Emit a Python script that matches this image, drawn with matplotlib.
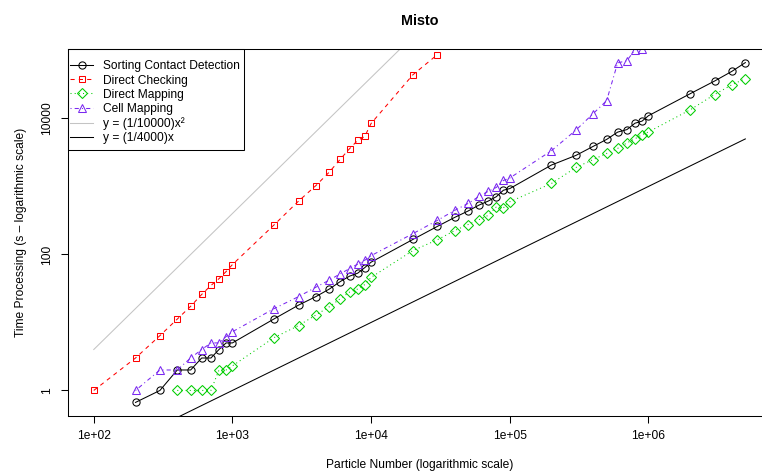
# %% imports
import numpy as np
import matplotlib
matplotlib.use('Agg')
import matplotlib.pyplot as plt
from matplotlib.patches import Rectangle
from matplotlib.ticker import NullLocator

plt.rcParams['font.family'] = ['Liberation Sans', 'DejaVu Sans']
plt.rcParams['font.size'] = 8.64

# %% data (time in s vs particle number)

# Sorting Contact Detection
scd_n = [200, 300, 400, 500, 600, 700, 800, 900, 1000,
         2000, 3000, 4000, 5000, 6000, 7000, 8000, 9000, 10000,
         20000, 30000, 40000, 50000, 60000, 70000, 80000, 90000, 100000,
         200000, 300000, 400000, 500000, 600000, 700000, 800000, 900000, 1000000,
         2000000, 3000000, 4000000, 5000000]
scd_t = [0.667, 1.0, 2.0, 2.0, 3.0, 3.0, 4.0, 5.0, 5.0,
         11.3, 18, 24, 31, 40, 48, 53, 64, 77,
         166, 258, 350, 435, 532, 610, 707, 880, 930,
         2066, 2860, 3890, 4920, 6300, 6860, 8510, 9140, 10960,
         23100, 35500, 49300, 66300]

# Direct Checking
dc_n = [100, 200, 300, 400, 500, 600, 700, 800, 900, 1000,
        2000, 3000, 4000, 5000, 6000, 7000, 8000, 9000, 10000,
        20000, 30000]
dc_t = [1.0, 3.0, 6.4, 11.2, 17.3, 25.8, 35, 44, 56, 71,
        273, 610, 1030, 1630, 2520, 3600, 4750, 5440, 8440,
        43800, 86500]

# Direct Mapping
dm_n = [400, 500, 600, 700, 800, 900, 1000,
        2000, 3000, 4000, 5000, 6000, 7000, 8000, 9000, 10000,
        20000, 30000, 40000, 50000, 60000, 70000, 80000, 90000, 100000,
        200000, 300000, 400000, 500000, 600000, 700000, 800000, 900000, 1000000,
        2000000, 3000000, 4000000, 5000000]
dm_t = [1.0, 1.0, 1.0, 1.0, 2.0, 2.0, 2.3,
        6.0, 9.0, 12.9, 17, 22.4, 28, 31, 36, 46,
        114, 164, 224, 275, 325, 376, 500, 485, 595,
        1107, 1900, 2490, 3060, 3630, 4370, 5030, 5770, 6330,
        13400, 22500, 31300, 38500]

# Cell Mapping
cm_n = [200, 300, 400, 500, 600, 700, 800, 900, 1000,
        2000, 3000, 4000, 5000, 6000, 7000, 8000, 9000, 10000,
        20000, 30000, 40000, 50000, 60000, 70000, 80000, 90000, 100000,
        200000, 300000, 400000, 500000, 600000, 700000, 800000, 900000]
cm_t = [1.0, 2.0, 2.0, 3.0, 4.0, 5.0, 5.0, 6.2, 7.3,
        16, 24, 33, 42, 52, 62, 72, 82, 96,
        202, 316, 444, 562, 713, 850, 967, 1225, 1330,
        3360, 6740, 11800, 18300, 65700, 70600, 103000, 104000]

# reference lines (end points)
quad_n = [100, 5000000]
quad_t = [4, 1e10]
lin_n = [100, 5000000]
lin_t = [0.1, 5000]

x_ticks = [1e2, 1e3, 1e4, 1e5, 1e6]
x_ticklabels = ['1e+02', '1e+03', '1e+04', '1e+05', '1e+06']
y_ticks = [1, 100, 10000]
y_ticklabels = ['1', '100', '10000']

labels = ['Sorting Contact Detection', 'Direct Checking', 'Direct Mapping',
          'Cell Mapping', 'y = (1/10000)x\u00b2', 'y = (1/4000)x']

# %% plot
fig = plt.figure(figsize=(7.62, 4.72), dpi=100)
ax = fig.add_axes([67.7/762, 56/472, 703.7/762, 367/472])

lw = 0.75
h1, = ax.plot(scd_n, scd_t, '-', color='black', lw=lw, marker='o', ms=5.2,
              mfc='none', mew=0.75)
h2, = ax.plot(dc_n, dc_t, color='#FF0000', lw=lw, ls=(0, (4, 4)), marker='s',
              ms=4.6, mfc='none', mew=0.75)
h3, = ax.plot(dm_n, dm_t, color='#00CD00', lw=lw, ls=(0, (1, 3)), marker='D',
              ms=4.6, mfc='none', mew=0.75)
h4, = ax.plot(cm_n, cm_t, color='#7A28F0', lw=lw, ls=(0, (1, 3, 4, 3)), marker='^',
              ms=6, mfc='none', mew=0.75)
h5, = ax.plot(quad_n, quad_t, '-', color='#C4C4C4', lw=lw)
h6, = ax.plot(lin_n, lin_t, '-', color='black', lw=lw)

ax.set_xscale('log')
ax.set_yscale('log')

# R style 4% padding around data range
xlo, xhi = np.log10(min(dc_n)), np.log10(max(scd_n))
ylo, yhi = np.log10(min(scd_t)), np.log10(max(scd_t))
px, py = 0.04 * (xhi - xlo), 0.04 * (yhi - ylo)
ax.set_xlim(10**(xlo - px), 10**(xhi + px))
ax.set_ylim(10**(ylo - py), 10**(yhi + py))

ax.set_xticks(x_ticks, labels=x_ticklabels)
ax.set_yticks(y_ticks, labels=y_ticklabels)
ax.xaxis.set_minor_locator(NullLocator())
ax.yaxis.set_minor_locator(NullLocator())
ax.tick_params(direction='out', length=5.2, width=0.75, pad=5.2, colors='black')
ax.tick_params(axis='y', labelrotation=90)
for lab in ax.get_yticklabels():
    lab.set_va('center')
for s in ax.spines.values():
    s.set_linewidth(0.75)

ax.set_title('Misto', fontweight='bold', fontsize=10.37, pad=17)
ax.set_xlabel('Particle Number (logarithmic scale)')
ax.set_ylabel('Time Processing (s \u2013 logarithmic scale)')
ax.xaxis.set_label_coords(0.5, -0.117)
ax.yaxis.set_label_coords(-0.058, 0.5)

# legend, frame drawn separately like R's legend box
leg = ax.legend([h1, h2, h3, h4, h5, h6], labels, loc='upper left',
                bbox_to_anchor=(0.0033, 0.969), frameon=False, borderpad=0,
                handlelength=1.92, handletextpad=0.83, labelspacing=0.18,
                borderaxespad=0)
ax.add_patch(Rectangle((0, 0.7248), 0.251, 0.2752, transform=ax.transAxes,
                       fill=False, lw=0.75, ec='black', clip_on=False, zorder=5))

fig.savefig('out.png', dpi=100)
